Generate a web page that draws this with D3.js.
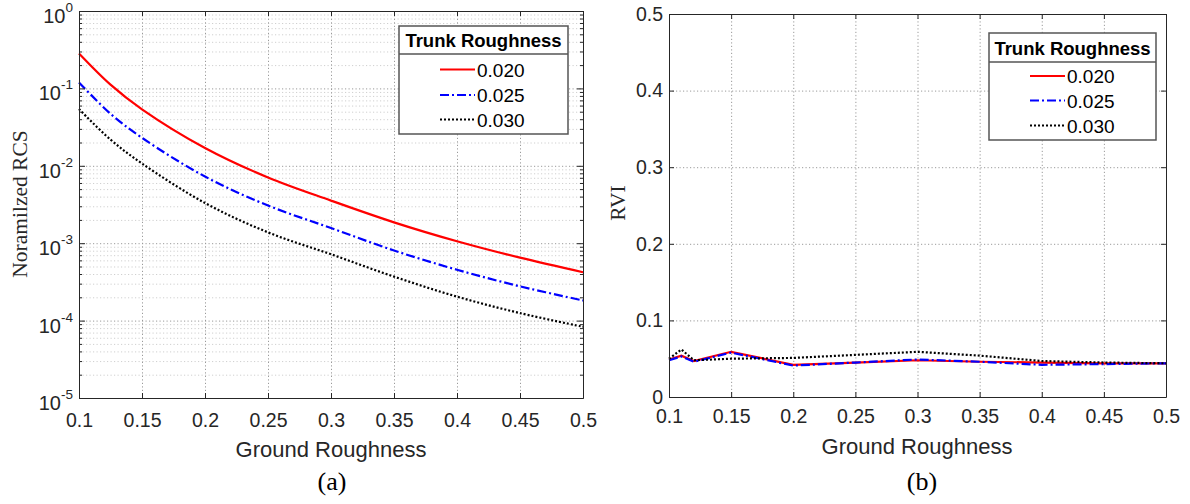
<!DOCTYPE html>
<html>
<head>
<meta charset="utf-8">
<script src="https://cdn.jsdelivr.net/npm/d3@7"></script>
<style>
  body { margin: 0; background: #fff; }
  svg text { fill: #262626; }
  .tick_lbl { font-family: "Liberation Sans", Arial, sans-serif; font-size: 19.5px; }
  .grid line { stroke: #9a9a9a; stroke-dasharray: 1.2, 2.3; stroke-width: 1; }
  .grid_minor line { stroke: #cfcfcf; stroke-dasharray: 1.2, 2.3; stroke-width: 1; }
  .grid path, .grid_minor path { display: none; }
  .ax path, .ax line { stroke: #262626; stroke-width: 1; }
</style>
</head>
<body>
<svg id="chart" width="1190" height="504"></svg>
<script>
// ground roughness sampled for panel (a)
const rcs_x = [0.1, 0.125, 0.15, 0.2, 0.25, 0.3, 0.35, 0.4, 0.45, 0.5];
// normalized RCS per trunk roughness
const rcs_020 = [0.283, 0.112, 0.0537, 0.017, 0.00706, 0.00355, 0.00186, 0.00106, 0.00065, 0.000422];
const rcs_025 = [0.1196, 0.047, 0.023, 0.00727, 0.00307, 0.00157, 0.000805, 0.000454, 0.000277, 0.000182];
const rcs_030 = [0.0541, 0.0218, 0.0107, 0.00331, 0.00138, 0.00072, 0.00037, 0.000204, 0.000125, 0.0000832];

// ground roughness sampled for panel (b)
const rvi_x = [0.1, 0.11, 0.12, 0.15, 0.2, 0.25, 0.3, 0.35, 0.4, 0.45, 0.5];
const rvi_020 = [0.049, 0.054, 0.047, 0.059, 0.042, 0.045, 0.048, 0.046, 0.045, 0.044, 0.044];
const rvi_025 = [0.048, 0.053, 0.046, 0.058, 0.041, 0.045, 0.049, 0.046, 0.042, 0.043, 0.044];
const rvi_030 = [0.05, 0.062, 0.048, 0.05, 0.051, 0.055, 0.059, 0.054, 0.047, 0.045, 0.044];

const series_names = ["0.020", "0.025", "0.030"];
const x_ticks = [0.1, 0.15, 0.2, 0.25, 0.3, 0.35, 0.4, 0.45, 0.5];
const rcs_decades = [-5, -4, -3, -2, -1, 0];
const rvi_ticks = [0, 0.1, 0.2, 0.3, 0.4, 0.5];

const styles = [
  { color: "#ff0000", dash: null },
  { color: "#0000ff", dash: "9,3,2,3" },
  { color: "#000000", dash: "2,2" },
];

const fmt = d3.format("~g");
const svg = d3.select("#chart");

svg.append("rect").attr("width", 1190).attr("height", 504).attr("fill", "#fff");

function drawLegend(g, box) {
  // legend box
  g.append("rect")
    .attr("x", box.x)
    .attr("y", box.y)
    .attr("width", box.w)
    .attr("height", box.h)
    .attr("fill", "#fff")
    .attr("stroke", "#555")
    .attr("stroke-width", 1.5);

  g.append("line")
    .attr("x1", box.x)
    .attr("x2", box.x + box.w)
    .attr("y1", box.sep)
    .attr("y2", box.sep)
    .attr("stroke", "#555")
    .attr("stroke-width", 1.5);

  g.append("text")
    .attr("x", box.x + box.w / 2)
    .attr("y", box.sep - 7)
    .attr("text-anchor", "middle")
    .style("font-family", "Liberation Sans, Arial, sans-serif")
    .style("font-weight", "bold")
    .style("font-size", "18.5px")
    .style("fill", "#000")
    .text("Trunk Roughness");

  series_names.forEach(function (name, i) {
    var yy = box.rows[i];
    g.append("line")
      .attr("x1", box.lx)
      .attr("x2", box.lx + 35)
      .attr("y1", yy)
      .attr("y2", yy)
      .attr("stroke", styles[i].color)
      .attr("stroke-width", 2)
      .attr("stroke-dasharray", styles[i].dash);
    g.append("text")
      .attr("x", box.lx + 37)
      .attr("y", yy + 7)
      .style("font-family", "Liberation Sans, Arial, sans-serif")
      .style("font-size", "19px")
      .style("fill", "#000")
      .text(name);
  });
}

/* PANEL (a): log scale RCS */
var xa = d3.scaleLinear().domain([0.1, 0.5]).range([79, 583]);
var ya = d3.scaleLog().domain([1e-5, 1]).range([398, 11]);

var minor_vals = [];
rcs_decades.slice(0, -1).forEach(function (p) {
  for (var k = 2; k <= 9; k++) minor_vals.push(k * Math.pow(10, p));
});
var decade_vals = rcs_decades.map((p) => Math.pow(10, p));

// minor grid
svg.append("g")
  .attr("class", "grid_minor")
  .attr("transform", "translate(79,0)")
  .call(d3.axisLeft(ya).tickValues(minor_vals).tickSize(-(583 - 79)).tickFormat(""));

// major grid
svg.append("g")
  .attr("class", "grid")
  .attr("transform", "translate(79,0)")
  .call(d3.axisLeft(ya).tickValues(decade_vals).tickSize(-(583 - 79)).tickFormat(""));
svg.append("g")
  .attr("class", "grid")
  .attr("transform", "translate(0,398)")
  .call(d3.axisBottom(xa).tickValues(x_ticks).tickSize(-(398 - 11)).tickFormat(""));

// curves
var line_a = d3
  .line()
  .x((d) => xa(d[0]))
  .y((d) => ya(d[1]))
  .curve(d3.curveCatmullRom.alpha(0.5));

[rcs_020, rcs_025, rcs_030].forEach(function (vals, i) {
  svg.append("path")
    .datum(rcs_x.map((x, j) => [x, vals[j]]))
    .attr("d", line_a)
    .attr("fill", "none")
    .attr("stroke", styles[i].color)
    .attr("stroke-width", 2.2)
    .attr("stroke-dasharray", styles[i].dash);
});

// axes (ticks inward, box on)
svg.append("g").attr("class", "ax").attr("transform", "translate(0,398)")
  .call(d3.axisBottom(xa).tickValues(x_ticks).tickSizeInner(-5).tickSizeOuter(0).tickPadding(14).tickFormat(fmt))
  .selectAll("text").attr("class", "tick_lbl").attr("dy", "0.75em");
svg.append("g").attr("class", "ax").attr("transform", "translate(0,11)")
  .call(d3.axisTop(xa).tickValues(x_ticks).tickSizeInner(-5).tickSizeOuter(0).tickFormat(""));
svg.append("g").attr("class", "ax").attr("transform", "translate(79,0)")
  .call(d3.axisLeft(ya).tickValues(decade_vals).tickSizeInner(-6).tickSizeOuter(0).tickFormat(""));
svg.append("g").attr("class", "ax").attr("transform", "translate(79,0)")
  .call(d3.axisLeft(ya).tickValues(minor_vals).tickSizeInner(-3).tickSizeOuter(0).tickFormat(""));
svg.append("g").attr("class", "ax").attr("transform", "translate(583,0)")
  .call(d3.axisRight(ya).tickValues(decade_vals).tickSizeInner(-6).tickSizeOuter(0).tickFormat(""));
svg.append("g").attr("class", "ax").attr("transform", "translate(583,0)")
  .call(d3.axisRight(ya).tickValues(minor_vals).tickSizeInner(-3).tickSizeOuter(0).tickFormat(""));

// 10^n labels
rcs_decades.forEach(function (p) {
  var t = svg.append("text")
    .attr("class", "tick_lbl")
    .attr("x", 73)
    .attr("y", ya(Math.pow(10, p)) + 12)
    .attr("text-anchor", "end")
    .style("font-size", "20px");
  t.append("tspan").text("10");
  t.append("tspan")
    .attr("dy", -11)
    .style("font-size", "13.5px")
    .text(p);
});

// labels
svg.append("text")
  .attr("transform", "translate(27,204) rotate(-90)")
  .attr("text-anchor", "middle")
  .style("font-family", "Liberation Serif, Times New Roman, serif")
  .style("font-size", "21.5px")
  .text("Noramilzed RCS");
svg.append("text")
  .attr("x", 331)
  .attr("y", 457)
  .attr("text-anchor", "middle")
  .style("font-family", "Liberation Sans, Arial, sans-serif")
  .style("font-size", "22px")
  .text("Ground Roughness");
svg.append("text")
  .attr("x", 332)
  .attr("y", 490)
  .attr("text-anchor", "middle")
  .style("font-family", "Liberation Serif, Times New Roman, serif")
  .style("font-size", "26px")
  .style("fill", "#000")
  .text("(a)");

drawLegend(svg.append("g"), { x: 399, y: 26, w: 169, h: 108, sep: 54, lx: 440, rows: [69.5, 95, 119.5] });

/* PANEL (b): RVI */
var xb = d3.scaleLinear().domain([0.1, 0.5]).range([669, 1166]);
var yb = d3.scaleLinear().domain([0, 0.5]).range([397, 14]);

svg.append("g")
  .attr("class", "grid")
  .attr("transform", "translate(669,0)")
  .call(d3.axisLeft(yb).tickValues(rvi_ticks).tickSize(-(1166 - 669)).tickFormat(""));
svg.append("g")
  .attr("class", "grid")
  .attr("transform", "translate(0,397)")
  .call(d3.axisBottom(xb).tickValues(x_ticks).tickSize(-(397 - 14)).tickFormat(""));

var line_b = d3
  .line()
  .x((d) => xb(d[0]))
  .y((d) => yb(d[1]));

[rvi_020, rvi_025, rvi_030].forEach(function (vals, i) {
  svg.append("path")
    .datum(rvi_x.map((x, j) => [x, vals[j]]))
    .attr("d", line_b)
    .attr("fill", "none")
    .attr("stroke", styles[i].color)
    .attr("stroke-width", 2.2)
    .attr("stroke-dasharray", styles[i].dash);
});

svg.append("g").attr("class", "ax").attr("transform", "translate(0,397)")
  .call(d3.axisBottom(xb).tickValues(x_ticks).tickSizeInner(-5).tickSizeOuter(0).tickPadding(11).tickFormat(fmt))
  .selectAll("text").attr("class", "tick_lbl").attr("dy", "0.75em");
svg.append("g").attr("class", "ax").attr("transform", "translate(0,14)")
  .call(d3.axisTop(xb).tickValues(x_ticks).tickSizeInner(-5).tickSizeOuter(0).tickFormat(""));
svg.append("g").attr("class", "ax").attr("transform", "translate(669,0)")
  .call(d3.axisLeft(yb).tickValues(rvi_ticks).tickSizeInner(-5).tickSizeOuter(0).tickPadding(6).tickFormat(fmt))
  .selectAll("text").attr("class", "tick_lbl");
svg.append("g").attr("class", "ax").attr("transform", "translate(1166,0)")
  .call(d3.axisRight(yb).tickValues(rvi_ticks).tickSizeInner(-5).tickSizeOuter(0).tickFormat(""));

svg.append("text")
  .attr("transform", "translate(625,203) rotate(-90)")
  .attr("text-anchor", "middle")
  .style("font-family", "Liberation Serif, Times New Roman, serif")
  .style("font-size", "21.5px")
  .text("RVI");
svg.append("text")
  .attr("x", 917)
  .attr("y", 454)
  .attr("text-anchor", "middle")
  .style("font-family", "Liberation Sans, Arial, sans-serif")
  .style("font-size", "22px")
  .text("Ground Roughness");
svg.append("text")
  .attr("x", 922)
  .attr("y", 490)
  .attr("text-anchor", "middle")
  .style("font-family", "Liberation Serif, Times New Roman, serif")
  .style("font-size", "26px")
  .style("fill", "#000")
  .text("(b)");

drawLegend(svg.append("g"), { x: 989, y: 33, w: 167, h: 107, sep: 62, lx: 1030, rows: [76, 100.5, 125.5] });
</script>
</body>
</html>
